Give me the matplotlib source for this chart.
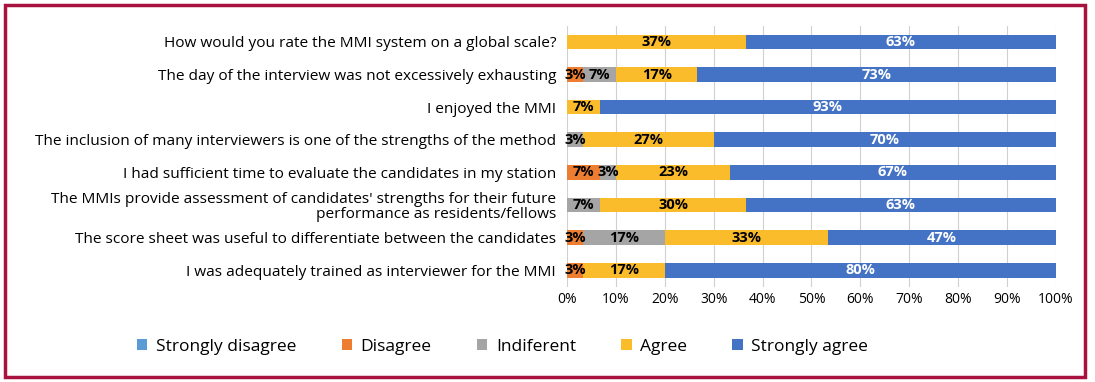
import matplotlib
matplotlib.use("Agg")
import matplotlib.pyplot as plt
import numpy as np
from matplotlib.patches import Rectangle

questions = [
    "How would you rate the MMI system on a global scale?",
    "The day of the interview was not excessively exhausting",
    "I enjoyed the MMI",
    "The inclusion of many interviewers is one of the strengths of the method",
    "I had sufficient time to evaluate the candidates in my station",
    "The MMIs provide assessment of candidates' strengths for their future\nperformance as residents/fellows",
    "The score sheet was useful to differentiate between the candidates",
    "I was adequately trained as interviewer for the MMI",
]
levels = ["Strongly disagree", "Disagree", "Indiferent", "Agree", "Strongly agree"]
strongly_disagree = [0, 0, 0, 0, 0, 0, 0, 0]
disagree = [0, 3.33, 0, 0, 6.67, 0, 3.33, 3.33]
indifferent = [0, 6.67, 0, 3.33, 3.33, 6.67, 16.67, 0]
agree = [36.67, 16.67, 6.67, 26.67, 23.33, 30.0, 33.33, 16.67]
strongly_agree = [63.33, 73.33, 93.33, 70.0, 66.67, 63.33, 46.67, 80.0]

colors = ["#5B9BD5", "#ED7D31", "#A5A5A5", "#FBBC2C", "#4472C4"]
text_colors = ["black", "black", "black", "black", "white"]

fig = plt.figure(figsize=(10.95, 3.82), dpi=100)
ax = fig.add_axes([0.518, 0.250, 0.446, 0.683])

series = [strongly_disagree, disagree, indifferent, agree, strongly_agree]
y = np.arange(len(questions))
left = np.zeros(len(questions))
for vals, name, c, tc in zip(series, levels, colors, text_colors):
    vals = np.array(vals)
    ax.barh(y, vals, left=left, height=0.45, color=c, label=name)
    for yi, (l, v) in enumerate(zip(left, vals)):
        if v > 0:
            ax.text(l + v / 2, yi, f"{v:.0f}%", ha="center", va="center",
                    color=tc, fontsize=10.5, fontweight="bold", family="Open Sans")
    left += vals

ax.set_xlim(0, 100)
ax.set_ylim(len(questions) - 0.5, -0.5)
ax.set_yticks(y)
ax.set_yticklabels(questions, fontsize=11.1, family="Open Sans", linespacing=1.0)
ax.set_xticks(np.arange(0, 101, 10))
ax.set_xticklabels([f"{t}%" for t in range(0, 101, 10)], fontsize=10, family="Open Sans")
ax.tick_params(length=0, pad=4)
ax.tick_params(axis="y", pad=8)
ax.xaxis.grid(True, color="#D0D0D0", linewidth=0.8)
ax.set_axisbelow(True)
for s in ax.spines.values():
    s.set_visible(False)

fig.legend(loc="center", bbox_to_anchor=(0.459, 0.092), ncol=5, frameon=False,
           prop={"family": "Open Sans", "size": 12.5}, handlelength=0.6,
           handleheight=0.6, handletextpad=0.5, columnspacing=2.6)

fig.patches.append(Rectangle((5 / 1095, 5 / 382), 1080 / 1095, 372 / 382,
                             transform=fig.transFigure, fill=False,
                             edgecolor="#A8123E", linewidth=2.5))

fig.savefig("out.png", dpi=100)
